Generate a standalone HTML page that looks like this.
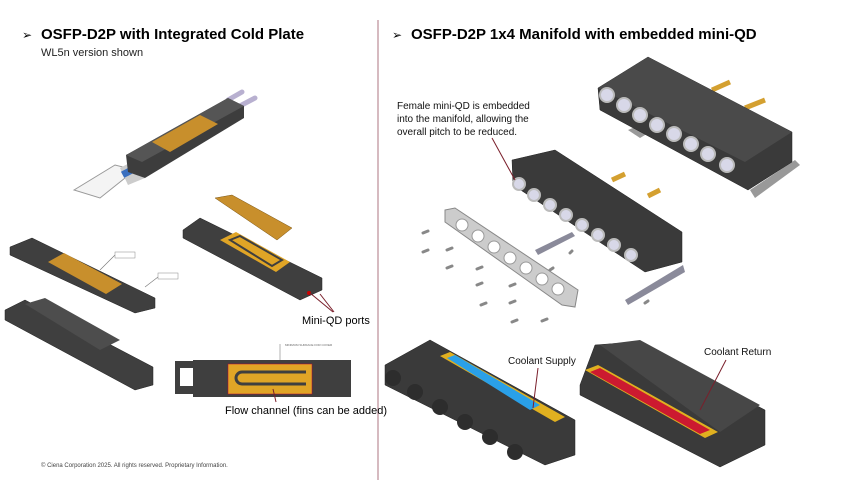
<!DOCTYPE html>
<html><head><meta charset="utf-8"><style>
body{margin:0;background:#fff;}
svg{display:block;font-family:"Liberation Sans",Arial,sans-serif;}
</style></head><body>
<svg width="850" height="480" viewBox="0 0 850 480">
<rect width="850" height="480" fill="#fff"/>
<line x1="378" y1="20" x2="378" y2="480" stroke="#c9a3ab" stroke-width="1.5"/>
<!-- titles -->
<text x="22" y="39" font-size="12" fill="#000">➢</text>
<text x="41" y="39" font-size="15" font-weight="bold" fill="#000">OSFP-D2P with Integrated Cold Plate</text>
<text x="41" y="56" font-size="11" fill="#222">WL5n version shown</text>
<text x="392" y="39" font-size="12" fill="#000">➢</text>
<text x="411" y="39" font-size="15" font-weight="bold" fill="#000">OSFP-D2P 1x4 Manifold with embedded mini-QD</text>

<!-- top left module -->
<g>
<line x1="228" y1="100" x2="242" y2="92" stroke="#b8b0d0" stroke-width="5" stroke-linecap="round"/>
<line x1="236" y1="108" x2="255" y2="98" stroke="#b8b0d0" stroke-width="5" stroke-linecap="round"/>
<polygon points="74,190 115,165 135,170 100,198" fill="#f4f4f4" stroke="#999" stroke-width="1"/>
<polygon points="120,168 135,160 145,178 128,185" fill="#ccc"/>
<rect x="122" y="168" width="14" height="7" fill="#3a6fbf" transform="rotate(-28 129 172)"/>
<polygon points="126,155 228,98 244,106 244,118 145,178 128,172" fill="#3d3d3d"/>
<polygon points="126,155 228,98 244,106 142,162" fill="#555"/>
<polygon points="152,142 200,115 218,124 170,152" fill="#c88f2c"/>
</g>

<!-- left plates -->
<polygon points="10,247 32,238 155,298 155,308 135,313 10,255" fill="#3f3f3f" stroke="#222" stroke-width="0.5"/>
<polygon points="48,262 64,253 122,284 106,294" fill="#c88f2c"/>
<line x1="100" y1="270" x2="115" y2="255" stroke="#777" stroke-width="0.6"/>
<rect x="115" y="252" width="20" height="6" fill="#fff" stroke="#888" stroke-width="0.5"/>
<line x1="145" y1="287" x2="158" y2="277" stroke="#777" stroke-width="0.6"/>
<rect x="158" y="273" width="20" height="6" fill="#fff" stroke="#888" stroke-width="0.5"/>
<polygon points="5,310 25,300 153,367 153,385 135,390 5,320" fill="#3f3f3f" stroke="#222" stroke-width="0.5"/>
<polygon points="25,304 45,298 120,340 100,350" fill="#4d4d4d"/>

<!-- right plate + lid -->
<polygon points="183,230 200,218 322,278 322,290 300,300 183,238" fill="#3f3f3f" stroke="#222" stroke-width="0.5"/>
<polygon points="220,240 236,232 290,262 276,272" fill="#e0a526"/>
<polygon points="230,240 240,236 282,260 272,266" fill="none" stroke="#3f3f3f" stroke-width="2"/>
<polygon points="215,198 232,195 292,228 277,240" fill="#c88f2c" stroke="#7a5515" stroke-width="0.5"/>
<circle cx="309" cy="293" r="2" fill="#c00"/>
<line x1="310" y1="293" x2="333" y2="312" stroke="#7a1f2b" stroke-width="1"/>
<line x1="320" y1="294" x2="334" y2="312" stroke="#7a1f2b" stroke-width="1"/>
<text x="302" y="324" font-size="11" fill="#000">Mini-QD ports</text>

<!-- flat plate -->
<rect x="175" y="361" width="20" height="33" fill="#3f3f3f"/>
<rect x="180" y="368" width="14" height="18" fill="#fff"/>
<rect x="193" y="360" width="158" height="37" fill="#3f3f3f"/>
<rect x="228" y="364" width="84" height="30" fill="#e0a526" stroke="#b03" stroke-width="0.5"/>
<path d="M306,372 H242 a6,6 0 0 0 0,12 H306" fill="none" stroke="#3f3f3f" stroke-width="3"/>
<line x1="280" y1="344" x2="280" y2="360" stroke="#666" stroke-width="0.5"/>
<text x="285" y="346" font-size="3" fill="#666">MINIMUM SURFACE FOR COVER</text>
<line x1="273" y1="389" x2="276" y2="402" stroke="#7a1f2b" stroke-width="1"/>
<text x="225" y="414" font-size="11" fill="#000">Flow channel (fins can be added)</text>
<text x="41" y="467" font-size="6" fill="#444">© Ciena Corporation 2025. All rights reserved. Proprietary Information.</text>

<!-- top manifold -->
<line x1="712" y1="90" x2="730" y2="82" stroke="#d4a030" stroke-width="5"/>
<line x1="745" y1="108" x2="765" y2="100" stroke="#d4a030" stroke-width="5"/>
<polygon points="628,130 640,125 650,132 640,138" fill="#999"/>
<polygon points="750,190 795,160 800,165 755,198" fill="#999"/>
<polygon points="598,88 648,57 792,132 792,162 748,190 600,110" fill="#3a3a3a" stroke="#222" stroke-width="0.5"/>
<polygon points="598,88 648,57 792,132 745,162" fill="#4a4a4a"/>
<g fill="#d8d8e8" stroke="#bbb" stroke-width="2">
<circle cx="607" cy="95" r="7"/><circle cx="624" cy="105" r="7"/><circle cx="640" cy="115" r="7"/><circle cx="657" cy="125" r="7"/><circle cx="674" cy="134" r="7"/><circle cx="691" cy="144" r="7"/><circle cx="708" cy="154" r="7"/><circle cx="727" cy="165" r="7"/>
</g>
<!-- second manifold -->
<line x1="612" y1="180" x2="625" y2="174" stroke="#d4a030" stroke-width="5"/>
<line x1="648" y1="196" x2="660" y2="190" stroke="#d4a030" stroke-width="5"/>
<polygon points="512,160 555,150 682,232 682,262 645,272 513,185" fill="#3a3a3a" stroke="#222" stroke-width="0.5"/>
<g fill="#d8d8e8" stroke="#bbb" stroke-width="2">
<circle cx="519" cy="184" r="6"/><circle cx="534" cy="195" r="6"/><circle cx="550" cy="205" r="6"/><circle cx="566" cy="215" r="6"/><circle cx="582" cy="225" r="6"/><circle cx="598" cy="235" r="6"/><circle cx="614" cy="245" r="6"/><circle cx="631" cy="255" r="6"/>
</g>
<text x="397" y="109" font-size="10" fill="#111">Female mini-QD is embedded</text>
<text x="397" y="122" font-size="10" fill="#111">into the manifold, allowing the</text>
<text x="397" y="135" font-size="10" fill="#111">overall pitch to be reduced.</text>
<line x1="492" y1="138" x2="515" y2="180" stroke="#7a1f2b" stroke-width="1"/>
<!-- holed plate -->
<polygon points="445,210 455,208 578,290 575,307 562,305 445,222" fill="#ccc" stroke="#888" stroke-width="1"/>
<g fill="#fff" stroke="#999" stroke-width="1">
<circle cx="462" cy="225" r="6"/><circle cx="478" cy="236" r="6"/><circle cx="494" cy="247" r="6"/><circle cx="510" cy="258" r="6"/><circle cx="526" cy="268" r="6"/><circle cx="542" cy="279" r="6"/><circle cx="558" cy="289" r="6"/>
</g>
<polygon points="535,250 572,232 575,236 538,255" fill="#8a8a9a"/>
<polygon points="625,300 683,265 685,272 628,305" fill="#8a8a9a"/>
<g stroke="#888" stroke-width="3" stroke-linecap="round">
<line x1="423" y1="233" x2="428" y2="231"/><line x1="423" y1="252" x2="428" y2="250"/><line x1="447" y1="250" x2="452" y2="248"/>
<line x1="447" y1="268" x2="452" y2="266"/><line x1="477" y1="269" x2="482" y2="267"/><line x1="477" y1="285" x2="482" y2="283"/>
<line x1="510" y1="286" x2="515" y2="284"/><line x1="510" y1="303" x2="515" y2="301"/><line x1="542" y1="321" x2="547" y2="319"/>
<line x1="481" y1="305" x2="486" y2="303"/><line x1="512" y1="322" x2="517" y2="320"/><line x1="550" y1="270" x2="553" y2="268"/><line x1="570" y1="253" x2="572" y2="251"/><line x1="645" y1="303" x2="648" y2="301"/>
</g>
<!-- bottom blocks -->
<polygon points="385,365 430,340 575,420 575,455 545,465 385,385" fill="#3a3a3a" stroke="#222" stroke-width="0.5"/>
<polygon points="440,356 450,352 565,417 555,422" fill="#e0b020"/>
<polygon points="447,358 455,355 540,405 530,410" fill="#2aa0e8"/>
<g fill="#2d2d2d"><circle cx="393" cy="378" r="8"/><circle cx="415" cy="392" r="8"/><circle cx="440" cy="407" r="8"/><circle cx="465" cy="422" r="8"/><circle cx="490" cy="437" r="8"/><circle cx="515" cy="452" r="8"/></g>
<text x="508" y="364" font-size="10" fill="#111">Coolant Supply</text>
<line x1="538" y1="368" x2="533" y2="408" stroke="#7a1f2b" stroke-width="1"/>
<polygon points="580,385 595,345 635,342 765,410 765,445 720,467 580,395" fill="#3a3a3a" stroke="#222" stroke-width="0.5"/>
<polygon points="585,370 598,365 718,432 705,438" fill="#e0b020"/>
<polygon points="590,372 600,368 710,430 700,434" fill="#cc1a30"/>
<polygon points="600,345 640,340 760,405 720,432" fill="#474747"/>
<text x="704" y="355" font-size="10" fill="#111">Coolant Return</text>
<line x1="726" y1="360" x2="700" y2="410" stroke="#7a1f2b" stroke-width="1"/>
</svg>
</body></html>
